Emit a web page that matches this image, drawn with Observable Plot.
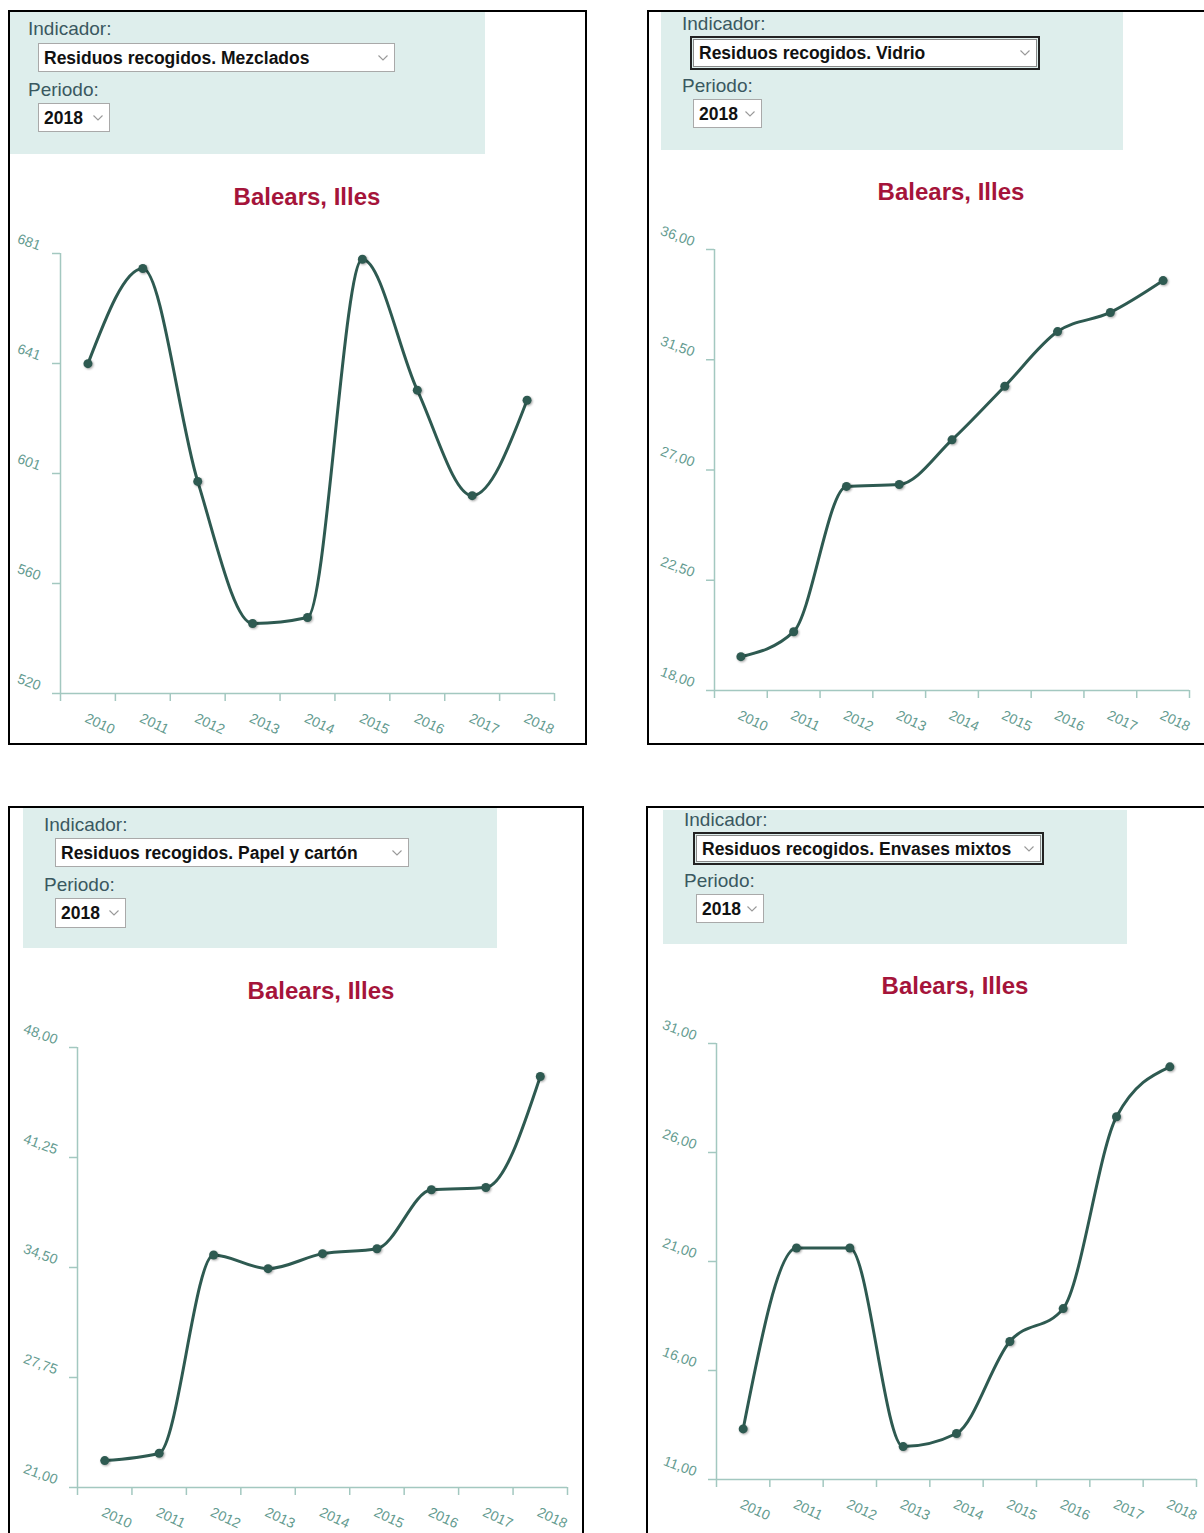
<!DOCTYPE html>
<html lang="es">
<head>
<meta charset="utf-8">
<script src="https://cdn.jsdelivr.net/npm/d3@7"></script>
<script src="https://cdn.jsdelivr.net/npm/@observablehq/plot@0.6"></script>
<style>
  html, body { margin: 0; padding: 0; background: #fff; }
  body { width: 1204px; height: 1533px; overflow: hidden; position: relative; font-family: "Liberation Sans", Arial, sans-serif; }
  .panel { position: absolute; border: 2px solid #000; box-sizing: border-box; background: #fff; }
  .ctrl { position: absolute; background: #deeeec; }
  .lbl { position: absolute; font-size: 19px; line-height: 22px; color: #3a5860; white-space: nowrap; }
  select.sel { position: absolute; font-family: "Liberation Sans", Arial, sans-serif; font-weight: bold; font-size: 17.5px; color: #111;
    -webkit-appearance: none; appearance: none;
    background-color: #fff;
    background-image: url("data:image/svg+xml;utf8,<svg xmlns='http://www.w3.org/2000/svg' width='10' height='6'><polyline points='0.5,0.5 5,5 9.5,0.5' fill='none' stroke='%23999' stroke-width='1.1'/></svg>");
    background-repeat: no-repeat; background-position: right 6px center; background-size: 10px 6px;
    border: 1px solid #a9a9a9; border-radius: 0; padding: 0 0 0 5px; box-sizing: border-box; margin: 0; }
  select.sel.focus { outline: 2px solid #222; outline-offset: 1px; border: 1px solid #8a8a8a; }
  .title { position: absolute; width: 400px; text-align: center; font-weight: bold; font-size: 24px; line-height: 28px; color: #a5143a; white-space: nowrap; }
  .chart { position: absolute; overflow: visible; }
  .chart svg { overflow: visible; }
</style>
</head>
<body>
<script>
// ---------- data ----------
const years = [2010, 2011, 2012, 2013, 2014, 2015, 2016, 2017, 2018];
const region = "Balears, Illes";
const periodo = "2018";
const indicadorLabel = "Indicador:";
const periodoLabel = "Periodo:";
const indicadores = [
  "Residuos recogidos. Mezclados",
  "Residuos recogidos. Vidrio",
  "Residuos recogidos. Papel y cartón",
  "Residuos recogidos. Envases mixtos"
];
const mezclados = [640.7, 675.5, 597.6, 545.6, 547.8, 678.9, 631.0, 592.4, 627.3];
const vidrio    = [19.38, 20.40, 26.33, 26.41, 28.23, 30.42, 32.65, 33.43, 34.73];
const papel     = [22.65, 23.10, 35.27, 34.43, 35.35, 35.65, 39.27, 39.41, 46.22];
const envases   = [13.32, 21.62, 21.62, 12.51, 13.11, 17.33, 18.84, 27.64, 29.93];

const mezcladosTicks = [520, 560.25, 600.5, 640.75, 681];
const mezcladosTickLabels = ["520", "560", "601", "641", "681"];
const vidrioTicks = [18, 22.5, 27, 31.5, 36];
const vidrioTickLabels = ["18,00", "22,50", "27,00", "31,50", "36,00"];
const papelTicks = [21, 27.75, 34.5, 41.25, 48];
const papelTickLabels = ["21,00", "27,75", "34,50", "41,25", "48,00"];
const envasesTicks = [11, 16, 21, 26, 31];
const envasesTickLabels = ["11,00", "16,00", "21,00", "26,00", "31,00"];

const series = [mezclados, vidrio, papel, envases];
const tickSets = [mezcladosTicks, vidrioTicks, papelTicks, envasesTicks];
const tickLabelSets = [mezcladosTickLabels, vidrioTickLabels, papelTickLabels, envasesTickLabels];

// ---------- layout (pixels) ----------
const layout = [
  {border:[8,10,579,735], box:[10,12,475,142], ind:[28,18], sel1:[38,43,357,29,false], per:[28,79], sel2:[38,103,72,29], title:[307,197], plot:[60,554,253,693]},
  {border:[647,10,600,735], box:[661,12,462,138], ind:[682,13], sel1:[693,39,344,28,true], per:[682,75], sel2:[693,99,69,29], title:[951,192], plot:[714,1189,249,690]},
  {border:[8,806,576,740], box:[23,808,474,140], ind:[44,814], sel1:[55,838,354,29,false], per:[44,874], sel2:[55,898,71,30], title:[321,991], plot:[77,567,1047,1487]},
  {border:[646,806,600,740], box:[663,810,464,134], ind:[684,809], sel1:[696,835,345,27,true], per:[684,870], sel2:[696,894,68,29], title:[955,986], plot:[716,1196,1043,1479]}
];

const lineColor = "#2e5a51";
const axisColor = "#a3c8c0";
const labelColor = "#649b90";
const ML = 60, MT = 30, MR = 20, MB = 50;

function el(tag, cls, styles, text) {
  const e = document.createElement(tag);
  if (cls) e.className = cls;
  Object.assign(e.style, styles || {});
  if (text != null) e.textContent = text;
  document.body.appendChild(e);
  return e;
}

function makeChart(values, ticks, tickLabels, w, h) {
  const data = years.map((year, i) => ({year, value: values[i]}));
  const edges = [...years.map(y => y - 0.5), years[years.length - 1] + 0.5];
  const domain = [ticks[0], ticks[ticks.length - 1]];
  return Plot.plot({
    width: w, height: h,
    marginLeft: ML, marginTop: MT, marginRight: MR, marginBottom: MB,
    x: {domain: [edges[0], edges[edges.length - 1]], axis: null},
    y: {domain, axis: null},
    style: {background: "transparent", fontFamily: "'Liberation Sans', Arial, sans-serif", overflow: "visible"},
    marks: [
      Plot.axisX({ticks: edges, tickSize: 8, tickFormat: () => "", label: null, stroke: axisColor, strokeWidth: 1.5, strokeOpacity: 1}),
      Plot.axisY({ticks: ticks, tickSize: 8, tickFormat: () => "", label: null, stroke: axisColor, strokeWidth: 1.5, strokeOpacity: 1}),
      Plot.ruleX([edges[0]], {stroke: axisColor, strokeWidth: 1.5}),
      Plot.ruleY([domain[0]], {stroke: axisColor, strokeWidth: 1.5}),
      Plot.text(ticks, {x: edges[0], y: d => d, text: (d, i) => tickLabels[i], textAnchor: "end", lineAnchor: "bottom",
        rotate: 20, dx: -22, dy: -3, fill: labelColor, fontSize: 14}),
      Plot.text(years, {x: d => d, y: domain[0], text: d => String(d), textAnchor: "start", lineAnchor: "bottom",
        rotate: 25, dx: -4, dy: 28, fill: labelColor, fontSize: 14}),
      Plot.line(data, {x: "year", y: "value", curve: "monotone-x", stroke: lineColor, strokeWidth: 3}),
      Plot.dot(data, {x: "year", y: "value", r: 4.5, fill: lineColor, stroke: "none"})
    ]
  });
}

layout.forEach((L, k) => {
  const [bl, bt, bw, bh] = L.border;
  el("div", "panel", {left: bl + "px", top: bt + "px", width: bw + "px", height: bh + "px"});
  const [cl, ct, cw, ch] = L.box;
  el("div", "ctrl", {left: cl + "px", top: ct + "px", width: cw + "px", height: ch + "px"});
  el("div", "lbl", {left: L.ind[0] + "px", top: L.ind[1] + "px"}, indicadorLabel);
  el("div", "lbl", {left: L.per[0] + "px", top: L.per[1] + "px"}, periodoLabel);
  const s1 = el("select", "sel" + (L.sel1[4] ? " focus" : ""), {left: L.sel1[0] + "px", top: L.sel1[1] + "px", width: L.sel1[2] + "px", height: L.sel1[3] + "px"});
  const o1 = document.createElement("option"); o1.textContent = indicadores[k]; s1.appendChild(o1);
  const s2 = el("select", "sel", {left: L.sel2[0] + "px", top: L.sel2[1] + "px", width: L.sel2[2] + "px", height: L.sel2[3] + "px"});
  const o2 = document.createElement("option"); o2.textContent = periodo; s2.appendChild(o2);
  el("div", "title", {left: (L.title[0] - 200) + "px", top: (L.title[1] - 14) + "px"}, region);

  const [x0, x1, y0, y1] = L.plot;
  const w = (x1 - x0) + ML + MR, h = (y1 - y0) + MT + MB;
  const holder = el("div", "chart", {left: (x0 - ML) + "px", top: (y0 - MT) + "px", width: w + "px", height: h + "px"});
  const svg = makeChart(series[k], tickSets[k], tickLabelSets[k], w, h);
  svg.querySelectorAll("circle").forEach(c => c.style.filter = "drop-shadow(1px 1px 1px rgba(0,0,0,0.35))");
  holder.appendChild(svg);
});
</script>
</body>
</html>
